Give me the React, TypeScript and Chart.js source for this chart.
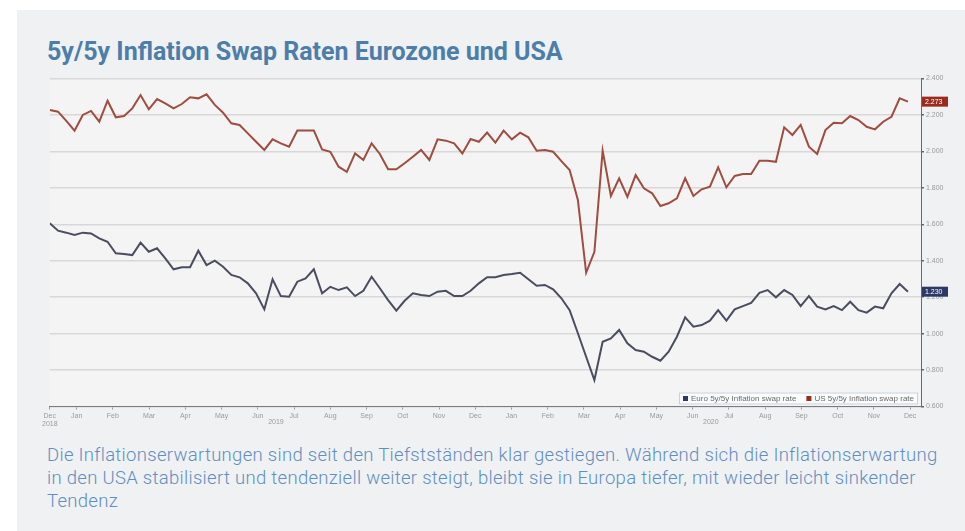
import React, { useEffect, useRef } from 'react';
import { Chart, registerables } from 'chart.js';

Chart.register(...registerables);

// Month labels, Dec 2018 .. Dec 2020 (one per month)
const monthLabels = [
  'Dec', 'Jan', 'Feb', 'Mar', 'Apr', 'May', 'Jun', 'Jul', 'Aug', 'Sep', 'Oct', 'Nov',
  'Dec', 'Jan', 'Feb', 'Mar', 'Apr', 'May', 'Jun', 'Jul', 'Aug', 'Sep', 'Oct', 'Nov', 'Dec',
];
const firstYearLabel = '2018';
const yearLabels = ['2019', '2020'];

// Weekly observations (first week starts late Dec 2018)
const firstWeek = 0.259; // position in months
const weekStep = 0.2277; // one week in months

const usSwap = [
  2.227, 2.218, 2.167, 2.114, 2.2, 2.222, 2.163, 2.278, 2.187, 2.194, 2.236, 2.309, 2.231,
  2.287, 2.264, 2.236, 2.26, 2.297, 2.291, 2.313, 2.255, 2.212, 2.154, 2.145, 2.099, 2.053,
  2.008, 2.066, 2.044, 2.026, 2.114, 2.114, 2.114, 2.011, 1.998, 1.916, 1.888,
  1.989, 1.953, 2.044, 1.986, 1.902, 1.902, 1.935, 1.971, 2.008, 1.953, 2.066, 2.059, 2.044,
  1.989, 2.068, 2.053, 2.103, 2.048, 2.114, 2.066, 2.103, 2.077, 2.004, 2.008, 1.998, 1.947,
  1.898, 1.733, 1.334, 1.449, 2.004, 1.755, 1.852, 1.751, 1.87, 1.797,
  1.77, 1.7, 1.715, 1.742, 1.852, 1.755, 1.792, 1.806, 1.913, 1.803, 1.865, 1.876, 1.876,
  1.949, 1.949, 1.943, 2.132, 2.09, 2.145, 2.026, 1.986, 2.117, 2.157, 2.154, 2.194, 2.172,
  2.135, 2.121, 2.163, 2.19, 2.291, 2.273,
];

const euroSwap = [
  1.605, 1.565, 1.554, 1.541, 1.554, 1.55, 1.523, 1.504, 1.441, 1.437, 1.431, 1.499, 1.449,
  1.468, 1.413, 1.353, 1.364, 1.364, 1.455, 1.376, 1.4, 1.367, 1.322, 1.309, 1.276, 1.221,
  1.133, 1.298, 1.206, 1.202, 1.285, 1.303, 1.353, 1.221, 1.257, 1.239, 1.254,
  1.206, 1.235, 1.312, 1.249, 1.184, 1.126, 1.18, 1.221, 1.212, 1.206, 1.23, 1.235, 1.206,
  1.206, 1.235, 1.276, 1.309, 1.309, 1.322, 1.327, 1.334, 1.298, 1.263, 1.267, 1.243, 1.194,
  1.129, 1.002, 0.873, 0.745, 0.955, 0.974, 1.02, 0.947, 0.91, 0.901,
  0.873, 0.851, 0.901, 0.983, 1.089, 1.038, 1.047, 1.071, 1.129, 1.071, 1.133, 1.151, 1.169,
  1.224, 1.239, 1.199, 1.239, 1.212, 1.151, 1.206, 1.148, 1.133, 1.151, 1.129, 1.175, 1.129,
  1.115, 1.148, 1.139, 1.221, 1.272, 1.23,
];

const seriesNames = ['Euro 5y/5y Inflation swap rate', 'US 5y/5y Inflation swap rate'];
const yMin = 0.6;
const yMax = 2.4;
const yStep = 0.2;

const titleText = '5y/5y Inflation Swap Raten Eurozone und USA';
const captionLines = [
  'Die Inflationserwartungen sind seit den Tiefstständen klar gestiegen. Während sich die Inflationserwartung',
  'in den USA stabilisiert und tendenziell weiter steigt, bleibt sie in Europa tiefer, mit wieder leicht sinkender',
  'Tendenz',
];

const EURO_LINE = '#4a4d5f';
const US_LINE = '#9e4d3e';
const EURO_TAG = '#2c3866';
const US_TAG = '#9c2a1d';

const decorPlugin = {
  id: 'decor',
  beforeDraw(chart: any) {
    const { ctx, chartArea } = chart;
    ctx.save();
    ctx.fillStyle = '#f4f4f4';
    ctx.fillRect(chartArea.left, chartArea.top, chartArea.right - chartArea.left, chartArea.bottom - chartArea.top);
    ctx.restore();
  },
  afterDraw(chart: any) {
    const { ctx, chartArea, scales } = chart;
    const ys = scales.y;
    const xs = scales.x;
    ctx.save();
    // last-value tags on right axis
    const tagColors = [EURO_TAG, US_TAG];
    chart.data.datasets.forEach((ds: any, i: number) => {
      const last = ds.data[ds.data.length - 1].y;
      const py = ys.getPixelForValue(last);
      ctx.fillStyle = tagColors[i];
      ctx.fillRect(chartArea.right + 1, py - 5, 26, 10);
      ctx.fillStyle = '#ffffff';
      ctx.font = '7px Arial';
      ctx.textBaseline = 'middle';
      ctx.textAlign = 'left';
      ctx.fillText(last.toFixed(3), chartArea.right + 4, py + 0.5);
    });
    // year labels
    ctx.fillStyle = '#9a9a9a';
    ctx.font = '7px Arial';
    ctx.textAlign = 'center';
    ctx.textBaseline = 'top';
    yearLabels.forEach((lab, k) => {
      const m = 7 + 12 * k - 0.5;
      ctx.fillText(lab, xs.getPixelForValue(m), chartArea.bottom + 12);
    });
    // legend box inside plot, bottom right
    ctx.font = '8px Arial';
    const sq = 5;
    const gap = 3;
    const sep = 10;
    const widths = seriesNames.map((n) => sq + gap + ctx.measureText(n).width);
    const total = widths[0] + widths[1] + sep + 8;
    const bx = chartArea.right - 3 - total;
    const by = chartArea.bottom - 14;
    ctx.fillStyle = '#fafbfc';
    ctx.fillRect(bx, by, total, 12);
    ctx.strokeStyle = '#c8d2de';
    ctx.lineWidth = 1;
    ctx.strokeRect(bx + 0.5, by + 0.5, total - 1, 11);
    const legendColors = [EURO_TAG, US_TAG];
    let cx = bx + 4;
    seriesNames.forEach((n, i) => {
      ctx.fillStyle = legendColors[i];
      ctx.fillRect(cx, by + 3.5, sq, sq);
      ctx.fillStyle = '#6b6b6b';
      ctx.textAlign = 'left';
      ctx.textBaseline = 'middle';
      ctx.fillText(n, cx + sq + gap, by + 6.5);
      cx += widths[i] + sep;
    });
    ctx.restore();
  },
};

function ChartCanvas() {
  const ref = useRef<HTMLCanvasElement | null>(null);
  useEffect(() => {
    if (!ref.current) return;
    const mk = (arr: number[]) => arr.map((v, i) => ({ x: firstWeek + i * weekStep, y: v }));
    const chart = new Chart(ref.current, {
      type: 'line',
      data: {
        datasets: [
          { label: seriesNames[0], data: mk(euroSwap), borderColor: EURO_LINE, borderWidth: 2, pointRadius: 0, tension: 0 },
          { label: seriesNames[1], data: mk(usSwap), borderColor: US_LINE, borderWidth: 2, pointRadius: 0, tension: 0 },
        ],
      },
      options: {
        animation: false,
        responsive: false,
        maintainAspectRatio: false,
        layout: { padding: { left: 5, top: 8.5, right: 0, bottom: 0 } },
        plugins: { legend: { display: false }, tooltip: { enabled: false }, title: { display: false } },
        scales: {
          x: {
            type: 'linear',
            min: firstWeek,
            max: 24.3,
            afterBuildTicks: (scale: any) => {
              const t: any[] = [{ value: scale.min }];
              for (let m = 1; m < monthLabels.length; m++) t.push({ value: m });
              scale.ticks = t;
            },
            afterFit: (scale: any) => {
              scale.height = 23.5;
            },
            ticks: {
              autoSkip: false,
              maxRotation: 0,
              font: { size: 7, family: 'Arial' },
              color: '#9a9a9a',
              padding: 2,
              callback: (value: any) => {
                const idx = Math.round(Number(value));
                if (idx === 0) return [monthLabels[0], firstYearLabel];
                return monthLabels[idx];
              },
            },
            grid: { display: true, drawOnChartArea: false, tickLength: 3, color: '#9a9a9a' },
            border: { display: true, color: '#7a7a7a', width: 1 },
          },
          y: {
            position: 'right',
            min: yMin,
            max: yMax,
            afterFit: (scale: any) => {
              scale.width = 29;
            },
            ticks: {
              stepSize: yStep,
              font: { size: 7, family: 'Arial' },
              color: '#9a9a9a',
              padding: 2,
              callback: (v: any) => Number(v).toFixed(3),
            },
            grid: { color: '#d8d8d8', lineWidth: 1.5, tickLength: 3, tickColor: '#666666' },
            border: { display: true, color: '#6a6a6a', width: 1 },
          },
        },
      },
      plugins: [decorPlugin],
    });
    return () => chart.destroy();
  }, []);
  return (
    <canvas
      ref={ref}
      width={910}
      height={360}
      style={{ position: 'absolute', left: 40, top: 70, width: 910, height: 360 }}
    />
  );
}

export default function App() {
  return (
    <div style={{ position: 'fixed', left: 0, top: 0, width: 965, height: 531, background: '#ffffff', overflow: 'hidden' }}>
      <div style={{ position: 'absolute', left: 17, top: 10, width: 948, height: 521, background: '#eff1f3' }} />
      <div
        style={{
          position: 'absolute',
          left: 47,
          top: 37,
          fontFamily: 'Roboto, sans-serif',
          fontWeight: 700,
          fontSize: 25,
          lineHeight: '30px',
          color: '#4d7eaa',
          whiteSpace: 'nowrap',
        }}
      >
        {titleText}
      </div>
      <ChartCanvas />
      <div
        style={{
          position: 'absolute',
          left: 47,
          top: 444,
          fontFamily: 'Roboto, sans-serif',
          fontWeight: 300,
          fontSize: 18.5,
          letterSpacing: '0.3px',
          lineHeight: '23px',
          color: '#5f8fbf',
          whiteSpace: 'nowrap',
        }}
      >
        {captionLines.map((l, i) => (
          <div key={i}>{l}</div>
        ))}
      </div>
    </div>
  );
}
